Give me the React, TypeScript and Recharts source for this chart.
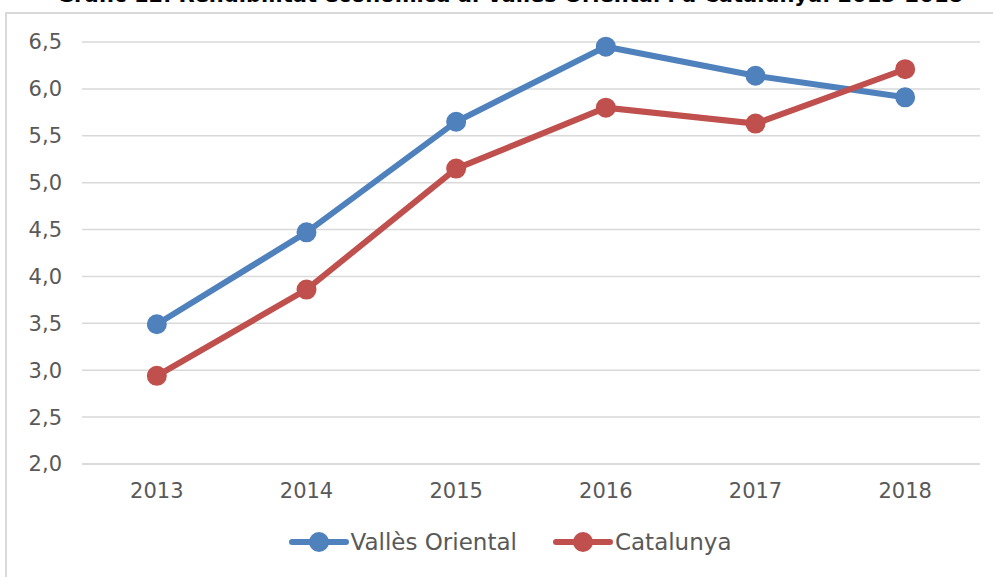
import React from 'react';
import { LineChart, Line, XAxis, YAxis, CartesianGrid, Legend } from 'recharts';

const years = ['2013', '2014', '2015', '2016', '2017', '2018'];
const vallesOriental = [3.49, 4.47, 5.65, 6.45, 6.14, 5.91];
const catalunya = [2.94, 3.86, 5.15, 5.8, 5.63, 6.21];
const yTicks = [2.0, 2.5, 3.0, 3.5, 4.0, 4.5, 5.0, 5.5, 6.0, 6.5];
const seriesOrder = ['Vallès Oriental', 'Catalunya'];

const BLUE = '#4F81BD';
const RED = '#C0504D';
const FONT = '"DejaVu Sans", sans-serif';

const data = years.map((year, i) => ({
  year,
  valles: vallesOriental[i],
  catalunya: catalunya[i],
}));

const fmt = (v: number) => v.toFixed(1).replace('.', ',');

function LegendContent({ payload }: any) {
  const items = [...(payload || [])].sort(
    (a: any, b: any) => seriesOrder.indexOf(a.value) - seriesOrder.indexOf(b.value)
  );
  return (
    <div style={{ display: 'flex', justifyContent: 'center', gap: 36, fontFamily: FONT, marginLeft: 27 }}>
      {items.map((item: any) => (
        <div key={item.value} style={{ display: 'flex', alignItems: 'center' }}>
          <svg width={60} height={22}>
            <line x1={3} y1={11} x2={57} y2={11} stroke={item.color} strokeWidth={6} strokeLinecap="round" />
            <circle cx={30} cy={11} r={10} fill={item.color} />
          </svg>
          <span style={{ fontSize: 23, color: '#595959', marginLeft: 2, lineHeight: '22px' }}>{item.value}</span>
        </div>
      ))}
    </div>
  );
}

export default function App() {
  return (
    <div style={{ position: 'absolute', left: 0, top: 0, width: 993, height: 577, background: '#fff', overflow: 'hidden' }}>
      <svg width={993} height={20} style={{ position: 'absolute', left: 0, top: 0 }}>
        <text x={510} y={2} textAnchor="middle" fontFamily={FONT} fontWeight="bold" fontSize={21} fill="#000">
          Gràfic 12. Rendibilitat econòmica al Vallès Oriental i a Catalunya. 2013-2018
        </text>
      </svg>
      <div style={{ position: 'absolute', left: 5, top: 12, width: 1000, height: 600, border: '2px solid #D9D9D9' }} />
      <div style={{ position: 'absolute', left: 0, top: 0 }}>
        <LineChart width={993} height={577} data={data} margin={{ top: 42, right: 13, left: 0, bottom: 73 }}>
          <CartesianGrid vertical={false} stroke="#D9D9D9" strokeWidth={1.5} />
          <XAxis
            dataKey="year"
            scale="band"
            height={40}
            axisLine={{ stroke: '#D9D9D9', strokeWidth: 1.5 }}
            tickLine={false}
            tick={{ fill: '#595959', fontSize: 21, fontFamily: FONT }}
            tickMargin={13}
          />
          <YAxis
            width={82}
            domain={[2, 6.5]}
            ticks={yTicks}
            tickFormatter={fmt}
            axisLine={false}
            tickLine={false}
            tick={{ fill: '#595959', fontSize: 21, fontFamily: FONT }}
            tickMargin={14}
          />
          <Legend
            verticalAlign="middle"
            align="center"
            wrapperStyle={{ position: 'absolute', top: 531, left: 0, width: 993 }}
            content={<LegendContent />}
          />
          <Line
            name="Vallès Oriental"
            dataKey="valles"
            stroke={BLUE}
            strokeWidth={6}
            dot={{ r: 9, fill: BLUE, stroke: BLUE, strokeWidth: 2 }}
            activeDot={false}
            isAnimationActive={false}
          />
          <Line
            name="Catalunya"
            dataKey="catalunya"
            stroke={RED}
            strokeWidth={6}
            dot={{ r: 9, fill: RED, stroke: RED, strokeWidth: 2 }}
            activeDot={false}
            isAnimationActive={false}
          />
        </LineChart>
      </div>
    </div>
  );
}
